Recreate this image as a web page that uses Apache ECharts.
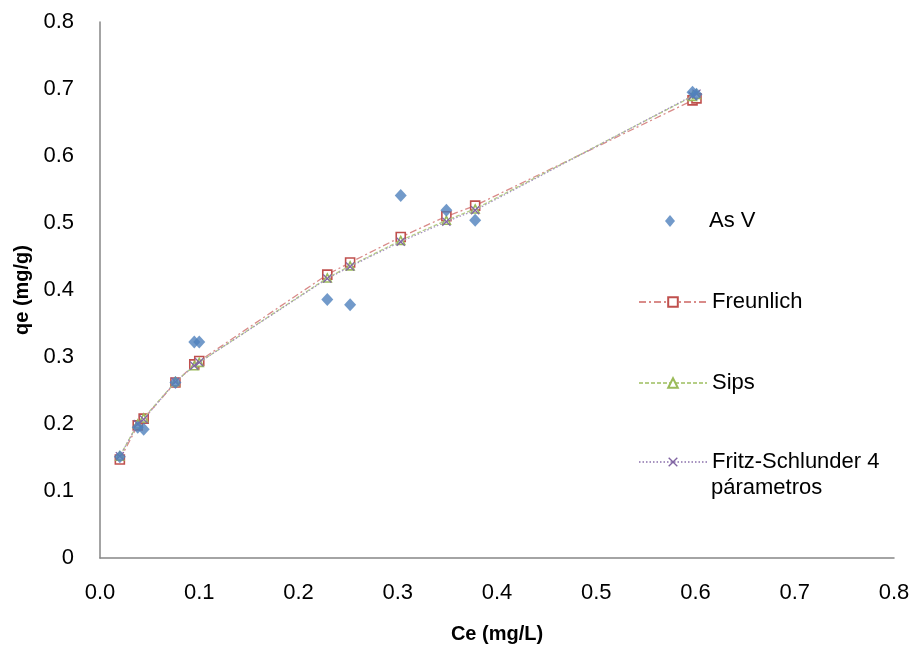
<!DOCTYPE html>
<html>
<head>
<meta charset="utf-8">
<script src="https://cdn.jsdelivr.net/npm/echarts@6/dist/echarts.min.js"></script>
<style>
  html, body { margin: 0; padding: 0; background: #fff; }
  #chart { width: 913px; height: 649px; }
</style>
</head>
<body>
<div id="chart"></div>
<script>
// Ce (mg/L)
const ce = [0.020, 0.038, 0.044, 0.076, 0.095, 0.100, 0.229, 0.252, 0.303, 0.349, 0.378, 0.597, 0.601];
// qe (mg/g)
const asV = [0.151, 0.195, 0.192, 0.262, 0.3225, 0.3225, 0.386, 0.378, 0.541, 0.519, 0.504, 0.695, 0.692];
const freunlich = [0.147, 0.198, 0.208, 0.262, 0.289, 0.294, 0.423, 0.441, 0.479, 0.510, 0.526, 0.683, 0.686];
const sips = [0.152, 0.200, 0.209, 0.263, 0.287, 0.292, 0.418, 0.436, 0.474, 0.504, 0.521, 0.689, 0.692];
const fritz = [0.152, 0.200, 0.207, 0.263, 0.287, 0.292, 0.417, 0.435, 0.472, 0.502, 0.519, 0.690, 0.693];

const pairs = ys => ce.map((x, i) => [x, ys[i]]);

const font = 'Liberation Sans';
const crossPath = 'path://M0,1L1,0L5,4L9,0L10,1L6,5L10,9L9,10L5,6L1,10L0,9L4,5Z';
const diamondPath = 'path://M5,0L10,6L5,12L0,6Z';

const myChart = echarts.init(document.getElementById('chart'));

// 图例：每项单独放，位置对齐原图
function legendItem(name, top, extra) {
  return Object.assign({
    data: [name],
    orient: 'vertical',
    left: 633,
    top: top,
    itemWidth: 68,
    itemHeight: 12,
    itemGap: 0,
    selectedMode: false,
    textStyle: { fontFamily: font, fontSize: 22, color: '#000', lineHeight: 24 }
  }, extra || {});
}

const option = {
  animation: false,
  backgroundColor: '#fff',
  grid: { left: 100, right: 19, top: 22, bottom: 87, containLabel: false },
  legend: [
    legendItem('As V', 204, {
      left: 660,
      data: [{ name: 'As V', icon: diamondPath }],
      symbolKeepAspect: true
    }),
    legendItem('Freunlich', 285),
    legendItem('Sips', 366),
    legendItem('Fritz-Schlunder 4 párametros', 445, {
      formatter: () => 'Fritz-Schlunder 4'
    })
  ],
  graphic: [{
    type: 'text',
    left: 711,
    top: 477,
    style: { text: 'párametros', fontFamily: font, fontSize: 22, fill: '#000' }
  }],
  xAxis: {
    type: 'value',
    min: 0,
    max: 0.8,
    interval: 0.1,
    name: 'Ce (mg/L)',
    nameLocation: 'middle',
    nameGap: 66,
    nameTextStyle: { fontFamily: font, fontSize: 20, fontWeight: 'bold', color: '#000' },
    axisLine: { show: true, lineStyle: { color: '#868686', width: 1.5 } },
    axisTick: { show: false },
    splitLine: { show: false },
    axisLabel: {
      margin: 24,
      fontFamily: font,
      fontSize: 22,
      color: '#000',
      formatter: v => v.toFixed(1)
    }
  },
  yAxis: {
    type: 'value',
    min: 0,
    max: 0.8,
    interval: 0.1,
    name: 'qe (mg/g)',
    nameLocation: 'middle',
    nameGap: 65,
    nameTextStyle: { fontFamily: font, fontSize: 20, fontWeight: 'bold', color: '#000' },
    axisLine: { show: true, lineStyle: { color: '#868686', width: 1.5 } },
    axisTick: { show: false },
    splitLine: { show: false },
    axisLabel: {
      margin: 26,
      fontFamily: font,
      fontSize: 22,
      color: '#000',
      formatter: v => (v === 0 ? '0' : v.toFixed(1))
    }
  },
  series: [
    {
      name: 'As V',
      type: 'scatter',
      symbol: 'diamond',
      symbolSize: [12, 13],
      z: 5,
      itemStyle: { color: '#4F81BD' },
      data: pairs(asV)
    },
    {
      name: 'Freunlich',
      type: 'line',
      symbol: 'rect',
      symbolSize: 9,
      z: 2,
      itemStyle: { color: '#fff', borderColor: '#C0504D', borderWidth: 1.6 },
      lineStyle: { color: '#D98B89', width: 1.3, type: [7, 3, 2, 3] },
      data: pairs(freunlich)
    },
    {
      name: 'Sips',
      type: 'line',
      symbol: 'triangle',
      symbolSize: 8,
      z: 3,
      itemStyle: { color: '#fff', borderColor: '#9BBB59', borderWidth: 1.6 },
      lineStyle: { color: '#B5CE86', width: 1.3, type: [4, 2] },
      data: pairs(sips)
    },
    {
      name: 'Fritz-Schlunder 4 párametros',
      type: 'line',
      symbol: crossPath,
      symbolSize: 9,
      z: 4,
      itemStyle: { color: '#8064A2' },
      lineStyle: { color: '#A793C0', width: 1.3, type: [1.5, 2] },
      data: pairs(fritz)
    }
  ]
};

myChart.setOption(option);
</script>
</body>
</html>
